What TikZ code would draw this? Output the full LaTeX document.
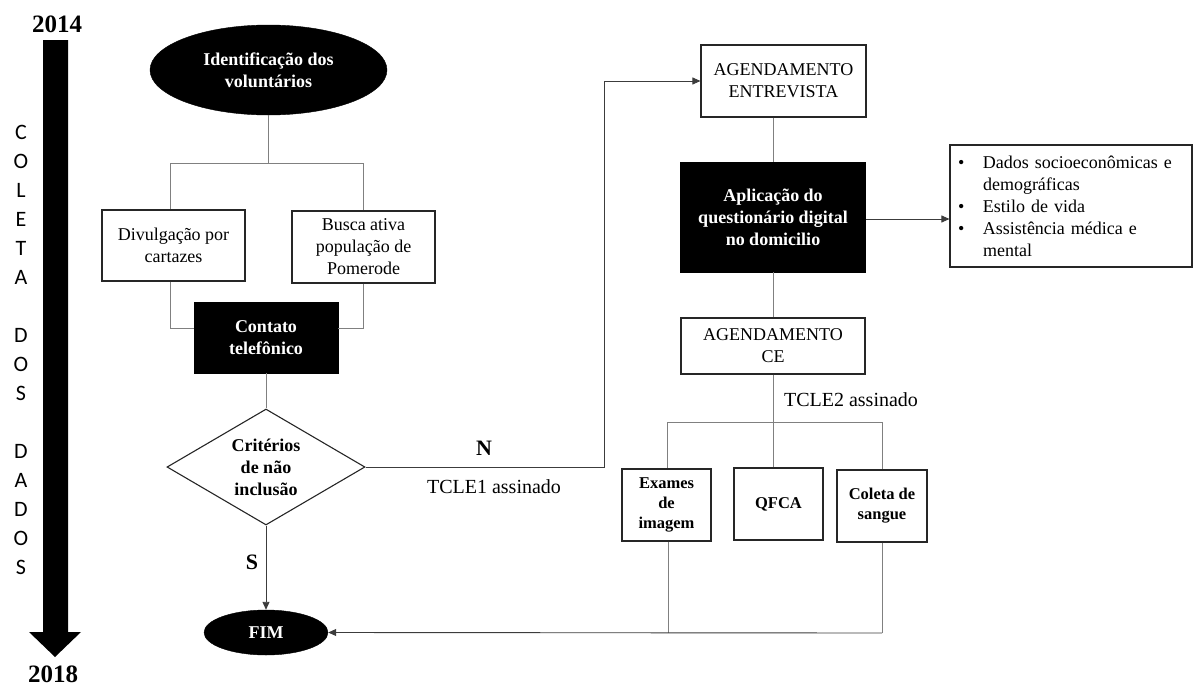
\documentclass[tikz,border=0pt]{standalone}
\usepackage{fontspec}
\setmainfont{Liberation Serif}
\newfontfamily\calib{Carlito}
\usetikzlibrary{shapes.geometric,arrows.meta}
\definecolor{lineg}{RGB}{128,128,128}
\definecolor{arrg}{RGB}{60,60,60}
\begin{document}
\begin{tikzpicture}[x=1pt,y=-1pt,
 txt/.style={font=\fontsize{18}{22}\selectfont},
 btxt/.style={font=\fontsize{18}{22}\selectfont\bfseries},
 wbox/.style={draw=black!85,line width=1.1pt,fill=white,inner sep=0pt,align=center,txt},
 kbox/.style={draw=black,fill=black,text=white,inner sep=0pt,align=center,btxt},
 sbox/.style={draw=black!85,line width=1.1pt,inner sep=0pt,align=center,font=\fontsize{16.5}{20}\selectfont\bfseries,minimum width=89pt,minimum height=72pt},
 conn/.style={draw=lineg,line width=0.9pt},
 arr/.style={draw=arrg,line width=0.9pt,-{Triangle[length=8pt,width=7pt]}},
 lbl/.style={inner sep=0pt,font=\fontsize{20}{24}\selectfont},
 blbl/.style={inner sep=0pt,font=\fontsize{22}{26}\selectfont\bfseries},
 yr/.style={inner sep=0pt,font=\fontsize{25}{28}\selectfont\bfseries},
 ]
\useasboundingbox (0,0) rectangle (1195,686);

% timeline
\fill[black] (43,40) -- (68,40) -- (68,632) -- (81,632) -- (55,657) -- (29,632) -- (43,632) -- cycle;
\node[yr] (y2014) at (57,24) {2014};
\node[yr] (y2018) at (53,674) {2018};
\node[inner sep=0pt,align=center,font=\calib\fontsize{22}{29}\selectfont] (coleta) at (21,349.5)
 {C\\O\\L\\E\\T\\A\\[29pt]D\\O\\S\\[29pt]D\\A\\D\\O\\S};

% nodes
\node[ellipse,kbox,minimum width=237pt,minimum height=90pt] (ident) at (268.5,70) {Identificação dos\\voluntários};
\node[wbox,minimum width=143pt,minimum height=71pt] (div) at (173.5,245.5) {Divulgação por\\cartazes};
\node[wbox,minimum width=143pt,minimum height=72pt] (busca) at (363.5,247) {Busca ativa\\população de\\Pomerode};
\node[kbox,minimum width=144pt,minimum height=71pt] (contato) at (266,337.5) {Contato\\telefônico};
\node[diamond,draw=black!85,line width=1.1pt,inner sep=0pt,aspect=1.707,minimum width=198pt,minimum height=116pt,align=center,btxt] (crit) at (266,467) {Critérios\\de não\\inclusão};
\node[ellipse,kbox,minimum width=124pt,minimum height=45pt] (fim) at (266,632.5) {FIM};

\node[wbox,minimum width=165pt,minimum height=72pt] (ent) at (783.5,81) {AGENDAMENTO\\ENTREVISTA};
\node[kbox,minimum width=185pt,minimum height=110pt] (apl) at (773,217) {Aplicação do\\questionário digital\\no domicilio};
\node[wbox,minimum width=184pt,minimum height=56pt] (ce) at (773,346) {AGENDAMENTO\\CE};
\node[draw=black!85,line width=1.1pt,inner sep=0pt,minimum width=242pt,minimum height=122pt,text width=226pt,align=left,txt] (lista) at (1071,206)
 {\makebox[25pt][l]{\textbullet}Dados socioeconômicas e\\
  \hspace*{25pt}demográficas\\
  \makebox[25pt][l]{\textbullet}Estilo de vida\\
  \makebox[25pt][l]{\textbullet}Assistência médica e\\
  \hspace*{25pt}mental};

\node[sbox] (exa) at (666.5,505) {Exames\\de\\imagem};
\node[sbox] (qfca) at (778.5,504) {QFCA};
\node[sbox,minimum width=90pt] (col) at (882,506) {Coleta de\\sangue};

% labels
\node[blbl] (lS) at (252,562) {S};
\node[blbl] (lN) at (484,448) {N};
\node[lbl] (lT1) at (494,487) {TCLE1 assinado};
\node[lbl] (lT2) at (851,400) {TCLE2 assinado};

% connectors left
\coordinate (jl) at (170,163);
\coordinate (jr) at (363,163);
\coordinate (jcl) at (170,328);
\coordinate (jcr) at (363,328);
\draw[conn] (ident.south) -- (ident.south |- jl);
\draw[conn] (jl) -- (jr);
\draw[conn] (jl) -- (jl |- div.north);
\draw[conn] (jr) -- (jr |- busca.north);
\draw[conn] (jl |- div.south) -- (jcl) -- (jcl -| contato.west);
\draw[conn] (jr |- busca.south) -- (jcr) -- (jcr -| contato.east);
\draw[conn] (contato.south) -- (crit.north);
\draw[arr] (crit.south) -- (fim.north);

% N branch
\coordinate (nb) at (604,467);
\draw[arr] (crit.east) -- (nb) -- (nb |- ent.west) -- (ent.west);

% right column
\draw[conn] (apl.north |- ent.south) -- (apl.north);
\draw[conn] (apl.south) -- (ce.north);
\coordinate (ap) at (866,219);
\draw[arr] (ap) -- (ap -| lista.west);

\coordinate (hl) at (667,422);
\coordinate (hr) at (882,422);
\coordinate (hm) at (773,422);
\draw[conn] (ce.south) -- (hm);
\draw[conn] (hl) -- (hr);
\draw[conn] (hl) -- (hl |- exa.north);
\draw[conn] (hm) -- (hm |- qfca.north);
\draw[conn] (hr) -- (col.north);

\coordinate (bl) at (668,633);
\coordinate (br) at (882,633);
\draw[conn] (exa.south -| bl) -- (bl);
\draw[conn] (col.south) -- (br);
\draw[arr] (br) -- (fim.east);
\end{tikzpicture}
\end{document}
